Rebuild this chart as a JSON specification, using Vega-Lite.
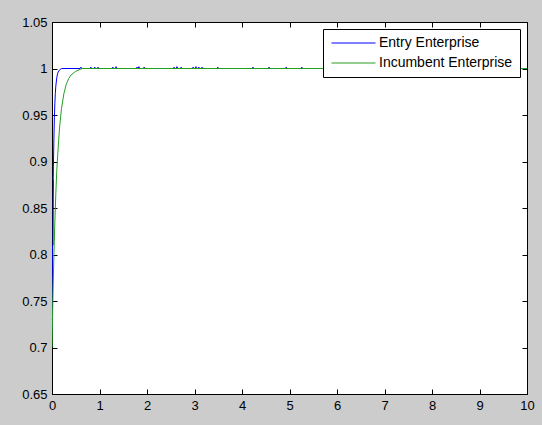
{
  "$schema": "https://vega.github.io/schema/vega-lite/v6.json",
  "width": 475,
  "height": 372,
  "autosize": "none",
  "padding": {"left": 52, "top": 22, "right": 15, "bottom": 31},
  "background": "#cccccc",
  "config": {
    "view": {"fill": "white", "stroke": "black", "strokeWidth": 1},
    "axis": {
      "domain": false,
      "grid": false,
      "ticks": true,
      "tickColor": "black",
      "tickSize": -5,
      "tickWidth": 1,
      "labelFont": "Liberation Sans",
      "labelFontSize": 13,
      "labelColor": "black",
      "labelFlush": false,
      "labelOverlap": false,
      "labelPadding": 10,
      "format": "~r",
      "title": null
    }
  },
  "data": {
    "values": [
      {"x": 0, "y": 0.72, "s": "Entry Enterprise"},
      {"x": 0.005, "y": 0.78, "s": "Entry Enterprise"},
      {"x": 0.01, "y": 0.81, "s": "Entry Enterprise"},
      {"x": 0.02, "y": 0.86, "s": "Entry Enterprise"},
      {"x": 0.03, "y": 0.895, "s": "Entry Enterprise"},
      {"x": 0.04, "y": 0.925, "s": "Entry Enterprise"},
      {"x": 0.05, "y": 0.947, "s": "Entry Enterprise"},
      {"x": 0.06, "y": 0.962, "s": "Entry Enterprise"},
      {"x": 0.07, "y": 0.973, "s": "Entry Enterprise"},
      {"x": 0.08, "y": 0.981, "s": "Entry Enterprise"},
      {"x": 0.1, "y": 0.99, "s": "Entry Enterprise"},
      {"x": 0.12, "y": 0.995, "s": "Entry Enterprise"},
      {"x": 0.15, "y": 0.998, "s": "Entry Enterprise"},
      {"x": 0.2, "y": 1.0, "s": "Entry Enterprise"},
      {"x": 0.595, "y": 1.0, "s": "Entry Enterprise"},
      {"x": 0.61, "y": 1.0015, "s": "Entry Enterprise"},
      {"x": 0.625, "y": 1.0, "s": "Entry Enterprise"},
      {"x": 0.805, "y": 1.0, "s": "Entry Enterprise"},
      {"x": 0.82, "y": 1.0015, "s": "Entry Enterprise"},
      {"x": 0.835, "y": 1.0, "s": "Entry Enterprise"},
      {"x": 0.885, "y": 1.0, "s": "Entry Enterprise"},
      {"x": 0.9, "y": 1.0015, "s": "Entry Enterprise"},
      {"x": 0.915, "y": 1.0, "s": "Entry Enterprise"},
      {"x": 0.955, "y": 1.0, "s": "Entry Enterprise"},
      {"x": 0.97, "y": 1.0015, "s": "Entry Enterprise"},
      {"x": 0.985, "y": 1.0, "s": "Entry Enterprise"},
      {"x": 1.265, "y": 1.0, "s": "Entry Enterprise"},
      {"x": 1.28, "y": 1.0015, "s": "Entry Enterprise"},
      {"x": 1.295, "y": 1.0, "s": "Entry Enterprise"},
      {"x": 1.335, "y": 1.0, "s": "Entry Enterprise"},
      {"x": 1.35, "y": 1.002, "s": "Entry Enterprise"},
      {"x": 1.365, "y": 1.0, "s": "Entry Enterprise"},
      {"x": 1.775, "y": 1.0, "s": "Entry Enterprise"},
      {"x": 1.79, "y": 1.0015, "s": "Entry Enterprise"},
      {"x": 1.805, "y": 1.0, "s": "Entry Enterprise"},
      {"x": 1.815, "y": 1.0, "s": "Entry Enterprise"},
      {"x": 1.83, "y": 1.002, "s": "Entry Enterprise"},
      {"x": 1.845, "y": 1.0, "s": "Entry Enterprise"},
      {"x": 1.925, "y": 1.0, "s": "Entry Enterprise"},
      {"x": 1.94, "y": 1.0015, "s": "Entry Enterprise"},
      {"x": 1.955, "y": 1.0, "s": "Entry Enterprise"},
      {"x": 2.555, "y": 1.0, "s": "Entry Enterprise"},
      {"x": 2.57, "y": 1.0015, "s": "Entry Enterprise"},
      {"x": 2.585, "y": 1.0, "s": "Entry Enterprise"},
      {"x": 2.615, "y": 1.0, "s": "Entry Enterprise"},
      {"x": 2.63, "y": 1.002, "s": "Entry Enterprise"},
      {"x": 2.645, "y": 1.0, "s": "Entry Enterprise"},
      {"x": 2.705, "y": 1.0, "s": "Entry Enterprise"},
      {"x": 2.72, "y": 1.0015, "s": "Entry Enterprise"},
      {"x": 2.735, "y": 1.0, "s": "Entry Enterprise"},
      {"x": 2.955, "y": 1.0, "s": "Entry Enterprise"},
      {"x": 2.97, "y": 1.0015, "s": "Entry Enterprise"},
      {"x": 2.985, "y": 1.0, "s": "Entry Enterprise"},
      {"x": 3.015, "y": 1.0, "s": "Entry Enterprise"},
      {"x": 3.03, "y": 1.002, "s": "Entry Enterprise"},
      {"x": 3.045, "y": 1.0, "s": "Entry Enterprise"},
      {"x": 3.075, "y": 1.0, "s": "Entry Enterprise"},
      {"x": 3.09, "y": 1.0015, "s": "Entry Enterprise"},
      {"x": 3.105, "y": 1.0, "s": "Entry Enterprise"},
      {"x": 3.145, "y": 1.0, "s": "Entry Enterprise"},
      {"x": 3.16, "y": 1.0015, "s": "Entry Enterprise"},
      {"x": 3.175, "y": 1.0, "s": "Entry Enterprise"},
      {"x": 3.475, "y": 1.0, "s": "Entry Enterprise"},
      {"x": 3.49, "y": 1.0015, "s": "Entry Enterprise"},
      {"x": 3.505, "y": 1.0, "s": "Entry Enterprise"},
      {"x": 4.215, "y": 1.0, "s": "Entry Enterprise"},
      {"x": 4.23, "y": 1.0015, "s": "Entry Enterprise"},
      {"x": 4.245, "y": 1.0, "s": "Entry Enterprise"},
      {"x": 4.555, "y": 1.0, "s": "Entry Enterprise"},
      {"x": 4.57, "y": 1.0015, "s": "Entry Enterprise"},
      {"x": 4.585, "y": 1.0, "s": "Entry Enterprise"},
      {"x": 4.915, "y": 1.0, "s": "Entry Enterprise"},
      {"x": 4.93, "y": 1.0015, "s": "Entry Enterprise"},
      {"x": 4.945, "y": 1.0, "s": "Entry Enterprise"},
      {"x": 5.245, "y": 1.0, "s": "Entry Enterprise"},
      {"x": 5.26, "y": 1.0015, "s": "Entry Enterprise"},
      {"x": 5.275, "y": 1.0, "s": "Entry Enterprise"},
      {"x": 10, "y": 1.0, "s": "Entry Enterprise"},
      {"x": 0, "y": 0.70, "s": "Incumbent Enterprise"},
      {"x": 0.01, "y": 0.73, "s": "Incumbent Enterprise"},
      {"x": 0.02, "y": 0.755, "s": "Incumbent Enterprise"},
      {"x": 0.04, "y": 0.80, "s": "Incumbent Enterprise"},
      {"x": 0.06, "y": 0.835, "s": "Incumbent Enterprise"},
      {"x": 0.08, "y": 0.865, "s": "Incumbent Enterprise"},
      {"x": 0.1, "y": 0.89, "s": "Incumbent Enterprise"},
      {"x": 0.13, "y": 0.915, "s": "Incumbent Enterprise"},
      {"x": 0.16, "y": 0.937, "s": "Incumbent Enterprise"},
      {"x": 0.2, "y": 0.957, "s": "Incumbent Enterprise"},
      {"x": 0.25, "y": 0.973, "s": "Incumbent Enterprise"},
      {"x": 0.3, "y": 0.983, "s": "Incumbent Enterprise"},
      {"x": 0.35, "y": 0.989, "s": "Incumbent Enterprise"},
      {"x": 0.4, "y": 0.993, "s": "Incumbent Enterprise"},
      {"x": 0.5, "y": 0.997, "s": "Incumbent Enterprise"},
      {"x": 0.63, "y": 1.0, "s": "Incumbent Enterprise"},
      {"x": 10, "y": 1.0, "s": "Incumbent Enterprise"},
      {"x": 0.02, "y": 0.81, "s": "Other"},
      {"x": 0.021, "y": 0.88, "s": "Other"}
    ]
  },
  "layer": [
    {
      "mark": {"type": "line", "strokeWidth": 1, "clip": true},
      "encoding": {
        "x": {
          "field": "x", "type": "quantitative",
          "scale": {"domain": [0, 10], "nice": false, "zero": false},
          "axis": {"orient": "bottom", "values": [0, 1, 2, 3, 4, 5, 6, 7, 8, 9, 10]}
        },
        "y": {
          "field": "y", "type": "quantitative",
          "scale": {"domain": [0.65, 1.05], "nice": false, "zero": false},
          "axis": {"orient": "left", "values": [0.65, 0.7, 0.75, 0.8, 0.85, 0.9, 0.95, 1, 1.05]}
        },
        "color": {
          "field": "s", "type": "nominal",
          "scale": {"domain": ["Entry Enterprise", "Incumbent Enterprise", "Other"], "range": ["#0000ff", "#22a022", "#000000"]},
          "legend": {
            "values": ["Entry Enterprise", "Incumbent Enterprise"],
            "orient": "none",
            "legendX": 271,
            "legendY": 7,
            "title": null,
            "symbolType": "M-1,0H7",
            "symbolSize": 121,
            "symbolStrokeWidth": 1,
            "labelFont": "Liberation Sans",
            "labelFontSize": 14,
            "labelColor": "black",
            "labelOffset": 35,
            "fillColor": "white",
            "strokeColor": "black",
            "padding": 7,
            "rowPadding": 6,
            "encode": {
              "symbols": {"update": {"stroke": {"scale": "color", "field": "value"}, "fill": {"value": "transparent"}}}
            }
          }
        }
      }
    },
    {
      "mark": {"type": "point", "opacity": 0},
      "encoding": {
        "x": {
          "field": "x", "type": "quantitative",
          "axis": {"orient": "top", "labels": false, "values": [0, 1, 2, 3, 4, 5, 6, 7, 8, 9, 10]}
        },
        "y": {
          "field": "y", "type": "quantitative",
          "axis": {"orient": "right", "labels": false, "values": [0.65, 0.7, 0.75, 0.8, 0.85, 0.9, 0.95, 1, 1.05]}
        }
      }
    }
  ]
}
